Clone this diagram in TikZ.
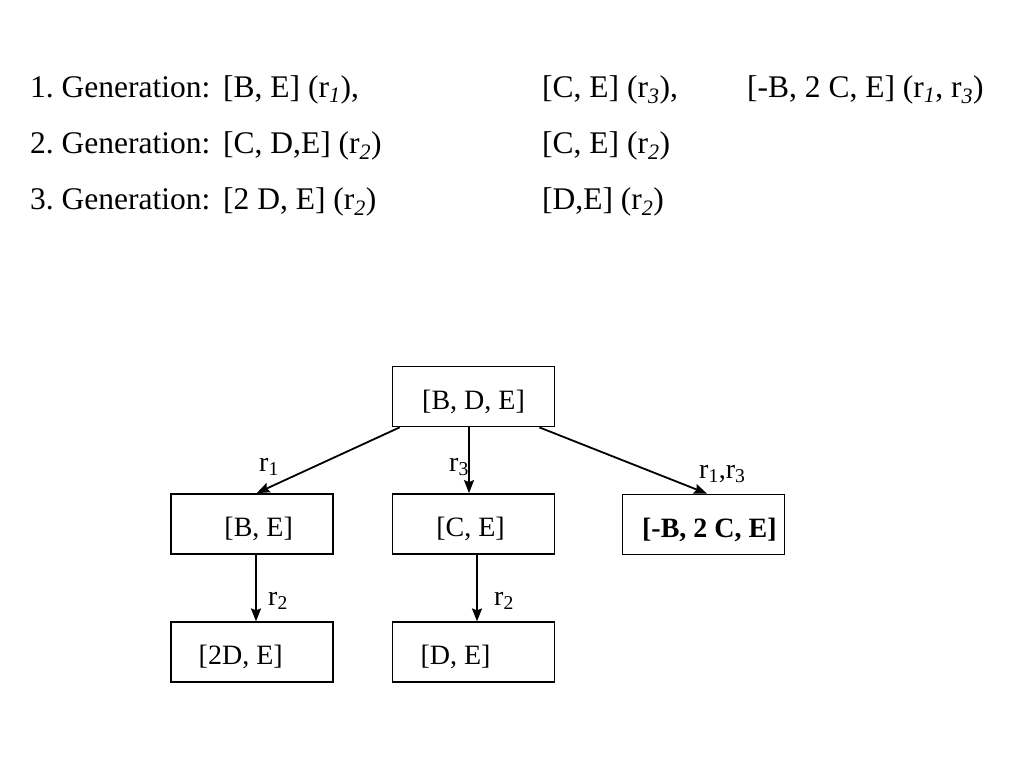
\documentclass[tikz,border=0pt]{standalone}
\usepackage{fontspec}
\setmainfont{Liberation Serif}
\usetikzlibrary{arrows.meta}
\frenchspacing

\newcommand{\gsub}[1]{\textsubscript{\textit{#1}}}

\begin{document}
\begin{tikzpicture}[x=1pt, y=-1pt, >={Stealth[length=13pt, width=10pt, inset=2pt]},
  gen/.style={anchor=base west, inner sep=0pt, font=\fontsize{31.5}{36}\selectfont},
  lab/.style={anchor=base west, inner sep=0pt, font=\fontsize{28}{32}\selectfont},
  state/.style={draw, line width=1.8pt, minimum width=162pt, minimum height=60pt,
    inner sep=0pt, text height=25pt, text depth=0pt, font=\fontsize{28}{32}\selectfont}]

\useasboundingbox (0,0) rectangle (1024,768);

% generations
\foreach \l [count=\y] in {1,2,3}
  \node [gen] (gen-\y) at (30,41+\y*56) {\l. Generation:};

\foreach \r/\c/\x/\t in {1/1/223/{[B, E] (r\gsub{1}),}, 1/2/542/{[C, E] (r\gsub{3}),},
    1/3/747/{[-B, 2 C, E] (r\gsub{1}, r\gsub{3})},
    2/1/223/{[C, D,E] (r\gsub{2})}, 2/2/542/{[C, E] (r\gsub{2})},
    3/1/223/{[2 D, E] (r\gsub{2})}, 3/2/542/{[D,E] (r\gsub{2})}}
  \node [gen] (gen-\r-\c) at (\x,41+\r*56) {\t};

% tree
\foreach \n/\x/\y/\s/\t in {root/473.5/396.5/0/{[B, D, E]},
    be/251.7/524/14/{[B, E]}, ce/473.5/524/-6/{[C, E]},
    nbce/703.4/524.5/12/{\textbf{[-B, 2 C, E]}},
    dde/251.7/652.3/-22/{[2D, E]}, de/473.5/652.3/-36/{[D, E]}}
  \node [state] (\n) at (\x,\y) {\hspace*{\s pt}\t};

\draw [->, line width=1.8pt] ([xshift=8pt]root.south west) -- ([xshift=5pt]be.north);
\draw [->, line width=1.8pt] ([xshift=-4.5pt]root.south) -- ([xshift=-4.5pt]ce.north);
\draw [->, line width=1.8pt] ([xshift=-16pt]root.south east) -- ([xshift=3.6pt]nbce.north);
\draw [->, line width=1.8pt] ([xshift=4.3pt]be.south) -- ([xshift=4.3pt]dde.north);
\draw [->, line width=1.8pt] ([xshift=3.5pt]ce.south) -- ([xshift=3.5pt]de.north);

\node [lab] (lab-r1) at (259,471) {r\textsubscript{1}};
\node [lab] (lab-r3) at (449,471) {r\textsubscript{3}};
\node [lab] (lab-r13) at (699,478) {r\textsubscript{1},r\textsubscript{3}};
\node [lab] (lab-r2a) at (268,605) {r\textsubscript{2}};
\node [lab] (lab-r2b) at (494,605) {r\textsubscript{2}};
\end{tikzpicture}
\end{document}
